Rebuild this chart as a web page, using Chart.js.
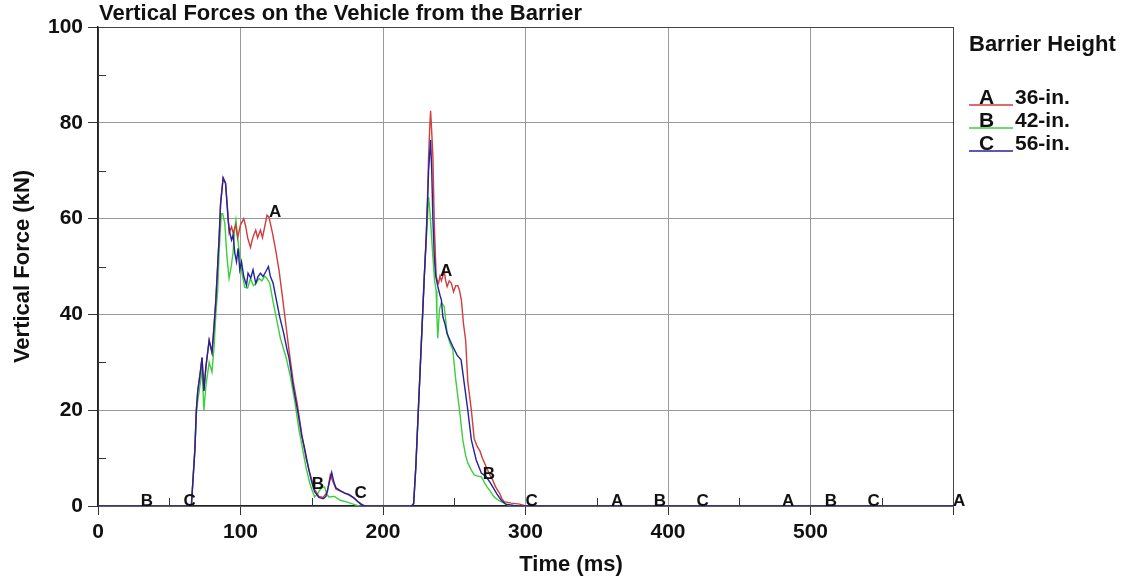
<!DOCTYPE html>
<html>
<head>
<meta charset="utf-8">
<title>Vertical Forces on the Vehicle from the Barrier</title>
<script src="https://cdn.jsdelivr.net/npm/chart.js@4.4.0/dist/chart.umd.min.js"></script>
<style>
  html, body { margin: 0; padding: 0; background: #fff; }
  #wrap { position: relative; width: 1122px; height: 582px; }
</style>
</head>
<body>
<div id="wrap"><canvas id="forceChart"></canvas></div>
<script>
// values (time in ms, force in kN)
const timeA = [0, 60, 65.5, 68, 69, 70, 72, 73, 74.3, 75.7,
  78, 80, 81.4, 82.7, 85, 86, 87.8, 89.5, 91, 92,
  93.7, 94.8, 96.7, 98, 100, 102.3, 103.7, 105, 107, 108.6,
  110.7, 112, 114, 115.4, 117, 118.6, 120, 122.4, 124.7, 127,
  129.4, 131.7, 134, 137, 140, 143, 146, 149, 152, 155,
  158, 161, 163, 165, 167, 171, 175, 179, 183, 187,
  220, 221.5, 223, 224.5, 226, 227.8, 229, 230.3, 231.2, 232,
  232.8, 233.4, 234.2, 235, 236, 237.3, 238.2, 239, 240, 241,
  243, 244, 245, 246.5, 248, 249.5, 251, 252.5, 253.7, 255,
  256.5, 258, 259.5, 262, 264, 266, 268, 270, 272.4, 275,
  277, 279, 281.7, 283.5, 285, 290, 296, 300, 360, 480,
  600];
const forceA = [0, 0, 0, 12, 20, 24, 28.4, 31, 24, 29,
  34.6, 32, 37.4, 43, 56, 63, 68.5, 67.4, 61.8, 57,
  58.3, 57, 58.7, 56, 58.7, 60, 58.3, 56, 54, 56,
  57.6, 56, 57.6, 56, 58.3, 60.7, 60.3, 57, 53.4, 49.3,
  43.7, 38.2, 32.6, 26, 21, 15, 10, 6.5, 3.5, 2,
  1.8, 3, 6.5, 5, 3.5, 3, 2.5, 1.8, 0.8, 0,
  0, 0.5, 8, 18, 28, 40, 48, 56, 64, 73,
  79, 82.5, 78, 73, 59, 48, 47, 46.5, 48, 47,
  49, 47, 45.8, 47, 46.5, 44.7, 46, 46, 45, 43,
  38, 34.6, 26, 20, 14, 12.5, 11.5, 9.8, 8.2, 6.5,
  5.4, 4, 2.7, 1.5, 0.9, 0.6, 0.4, 0, 0, 0,
  0];

const timeB = [0, 30, 65.5, 68, 69, 70, 72, 73, 74.3, 75.7,
  78, 80, 81.4, 82.7, 84, 85, 86.5, 87.5, 89, 90.5,
  92, 93.5, 94.8, 96, 96.8, 98, 99.5, 101, 103, 105,
  107, 109, 111, 113, 115, 117, 118.5, 120.5, 123, 126,
  128, 130, 132, 135, 138, 141, 143.7, 146, 148.6, 150,
  152, 154, 155.6, 157, 159, 160.5, 162, 166, 170, 175,
  180, 183, 220, 221.5, 223, 224.5, 226, 227.8, 229, 230.3,
  231.2, 232, 232.8, 233.8, 235, 236.2, 237.3, 237.8, 238.4, 239.6,
  241, 243, 245, 247, 249, 251, 253.7, 256, 258, 259.5,
  262, 264, 266, 269, 270, 271, 273, 275.5, 278, 281,
  283, 287, 290, 390, 510, 600];
const forceB = [0, 0, 0, 12, 19, 22, 26, 29, 20, 25,
  30, 28, 33, 40, 45, 53, 61, 61, 59, 52,
  47.5, 50, 53, 58, 59.7, 56, 52, 48.6, 45.7, 45.5,
  47.5, 46, 46.5, 47.5, 47, 48, 47.5, 46.5, 42.4, 38,
  35, 33, 31, 27, 22, 16, 11.7, 8, 4.8, 3.5,
  1.9, 2.5, 3.3, 3.8, 4, 2.5, 1.9, 2, 1.2, 0.8,
  0.3, 0, 0, 0.5, 8, 18, 28, 40, 48, 55,
  60, 64.5, 62, 57.6, 52, 47, 45, 40, 35, 41,
  42.5, 41.6, 36, 34, 32.6, 26.5, 20, 13.8, 10.5, 9,
  7.5, 6.5, 6.3, 6.1, 5.6, 5, 4, 3, 1.9, 1.2,
  0.9, 0.3, 0, 0, 0, 0];

const timeC = [0, 60, 65.5, 68, 69, 70, 72, 73, 74.3, 75.7,
  78, 80, 81.4, 82.7, 85, 86, 87.8, 89.5, 91.3, 92.5,
  93.7, 94.8, 96, 97.2, 98.3, 99.5, 100.7, 102.3, 104.2, 105.3,
  107.2, 108.8, 110.7, 112.3, 114, 115.8, 117.7, 119.6, 121, 122.9,
  125.2, 127.5, 130.3, 132.7, 134, 137, 140, 143, 145, 148,
  150, 152, 155, 158, 160, 162, 164, 165.5, 167, 170,
  173, 176, 180, 182, 185, 188, 220, 221.5, 223, 224.5,
  226, 227.8, 229, 230.3, 231.2, 232, 233.4, 234.2, 235, 236,
  237, 238.5, 240, 241, 242, 243.5, 245, 247, 249, 252,
  254.8, 257, 259.5, 262, 265.4, 269, 272.4, 275, 277, 280,
  283, 286, 292, 295, 300, 420, 540, 600];
const forceC = [0, 0, 0, 11.7, 20, 24, 28.4, 31, 24, 29,
  34.6, 32, 37.4, 43, 56, 63, 68.5, 67.4, 59.7, 57,
  55.5, 56.6, 52.8, 51, 53.8, 49.3, 51, 47.9, 46.1, 48.6,
  47.6, 49.3, 46.5, 47.9, 48.6, 47.9, 48.9, 50, 47.9, 46.5,
  43, 39.5, 36.1, 32.6, 31, 25, 20, 14.6, 12, 7.5,
  5, 3, 1.8, 1.5, 2, 4.5, 7, 5, 3.8, 3.2,
  2.7, 2.4, 1.6, 1, 0.2, 0, 0, 0.5, 8, 18,
  28, 40, 48, 56, 63, 70, 76.4, 70, 60, 52,
  48, 45.8, 44, 43, 39.5, 38, 36, 34.6, 33.3, 31.5,
  30.5, 25.6, 20, 13.8, 9.6, 6.9, 6.1, 5, 4, 2.5,
  1.2, 0.4, 0.1, 0, 0, 0, 0, 0];

// where the curve letters sit
const markTimesA = [120, 240, 360, 480, 600];
const markTimesB = [30, 150, 270, 390, 510];
const markTimesC = [60, 180, 300, 420, 540];

const seriesLetters = ["A", "B", "C"];
const seriesNames = ["36-in.", "42-in.", "56-in."];
const seriesColors = ["#d23c3c", "#3ccf3c", "#23239c"];

const minorTimes = [50, 150, 250, 350, 450, 550];
const minorForces = [10, 30, 50, 70, 90];

const FONT = "'Liberation Sans', Arial, sans-serif";

function toPoints(times, forces) {
  return times.map((t, i) => ({ x: t, y: forces[i] }));
}

const seriesList = [
  { times: timeA, forces: forceA, marks: markTimesA },
  { times: timeB, forces: forceB, marks: markTimesB },
  { times: timeC, forces: forceC, marks: markTimesC }
];

const overlayPlugin = {
  id: "overlay",
  afterDatasetsDraw(chart) {
    const { ctx, scales } = chart;
    ctx.save();
    ctx.fillStyle = "#111";
    ctx.font = "bold 17px " + FONT;
    ctx.textAlign = "left";
    ctx.textBaseline = "alphabetic";
    seriesList.forEach((s, i) => {
      s.marks.forEach(t => {
        const idx = s.times.indexOf(t);
        if (idx < 0) return;
        const px = scales.x.getPixelForValue(t);
        const py = scales.y.getPixelForValue(s.forces[idx]);
        ctx.fillText(seriesLetters[i], px, py);
      });
    });
    ctx.restore();
  },
  afterDraw(chart) {
    const { ctx, chartArea, scales } = chart;
    ctx.save();

    // minor ticks inside the axes
    ctx.strokeStyle = "#333";
    ctx.lineWidth = 1;
    ctx.beginPath();
    minorTimes.forEach(t => {
      const px = Math.round(scales.x.getPixelForValue(t)) + 0.5;
      ctx.moveTo(px, chartArea.bottom);
      ctx.lineTo(px, chartArea.bottom - 8);
    });
    minorForces.forEach(v => {
      const py = Math.round(scales.y.getPixelForValue(v)) + 0.5;
      ctx.moveTo(chartArea.left, py);
      ctx.lineTo(chartArea.left + 8, py);
    });
    ctx.stroke();

    // titles
    ctx.fillStyle = "#111";
    ctx.font = "bold 22px " + FONT;
    ctx.textAlign = "left";
    ctx.textBaseline = "alphabetic";
    ctx.fillText("Vertical Forces on the Vehicle from the Barrier", chartArea.left + 1, 20);

    ctx.textAlign = "center";
    ctx.textBaseline = "middle";
    ctx.fillText("Time (ms)", 571, 565);

    // legend
    const lx = chartArea.right + 16;
    ctx.textAlign = "left";
    ctx.textBaseline = "alphabetic";
    ctx.font = "bold 22px " + FONT;
    ctx.fillText("Barrier Height", lx, 51);
    ctx.font = "bold 21px " + FONT;
    seriesLetters.forEach((letter, i) => {
      const by = 104 + i * 23;
      ctx.strokeStyle = seriesColors[i];
      ctx.lineWidth = 1.5;
      ctx.beginPath();
      ctx.moveTo(lx, by + 1);
      ctx.lineTo(lx + 44, by + 1);
      ctx.stroke();
      ctx.fillStyle = "#111";
      ctx.fillText(letter, lx + 10, by);
      ctx.fillText(seriesNames[i], lx + 46, by);
    });

    ctx.restore();
  }
};

const ctx = document.getElementById("forceChart").getContext("2d");
new Chart(ctx, {
  type: "line",
  data: {
    datasets: seriesList.map((s, i) => ({
      label: seriesNames[i],
      data: toPoints(s.times, s.forces),
      borderColor: seriesColors[i],
      borderWidth: 1.4,
      pointRadius: 0,
      tension: 0,
      fill: false,
      order: i === 2 ? 0 : (i === 0 ? 1 : 2)
    }))
  },
  options: {
    responsive: true,
    maintainAspectRatio: false,
    animation: false,
    layout: { padding: { left: 0, top: 27, right: 169, bottom: 0 } },
    plugins: {
      legend: { display: false },
      tooltip: { enabled: false }
    },
    scales: {
      x: {
        type: "linear",
        min: 0,
        max: 600,
        afterFit: scale => { scale.height = 76; },
        ticks: {
          stepSize: 100,
          color: "#111",
          padding: 5,
          maxRotation: 0,
          font: { family: FONT, size: 21, weight: "bold" },
          callback: v => (v === 600 ? "" : v)
        },
        grid: {
          color: c => (c.tick && (c.tick.value === 600 || c.tick.value === 0) ? "#444" : "#9a9a9a"),
          tickColor: "#333",
          tickLength: 9,
          lineWidth: 1
        },
        border: { color: "#222", width: 1.5 }
      },
      y: {
        min: 0,
        max: 100,
        afterFit: scale => { scale.width = 98; },
        ticks: {
          stepSize: 20,
          color: "#111",
          padding: 5,
          font: { family: FONT, size: 21, weight: "bold" }
        },
        grid: {
          color: c => (c.tick && c.tick.value === 100 ? "#444" : "#9a9a9a"),
          tickColor: "#333",
          tickLength: 10,
          lineWidth: 1
        },
        border: { color: "#222", width: 1.5 },
        title: {
          display: true,
          text: "Vertical Force (kN)",
          color: "#111",
          padding: { top: 10, bottom: 0 },
          font: { family: FONT, size: 22, weight: "bold" }
        }
      }
    }
  },
  plugins: [overlayPlugin]
});
</script>
</body>
</html>
